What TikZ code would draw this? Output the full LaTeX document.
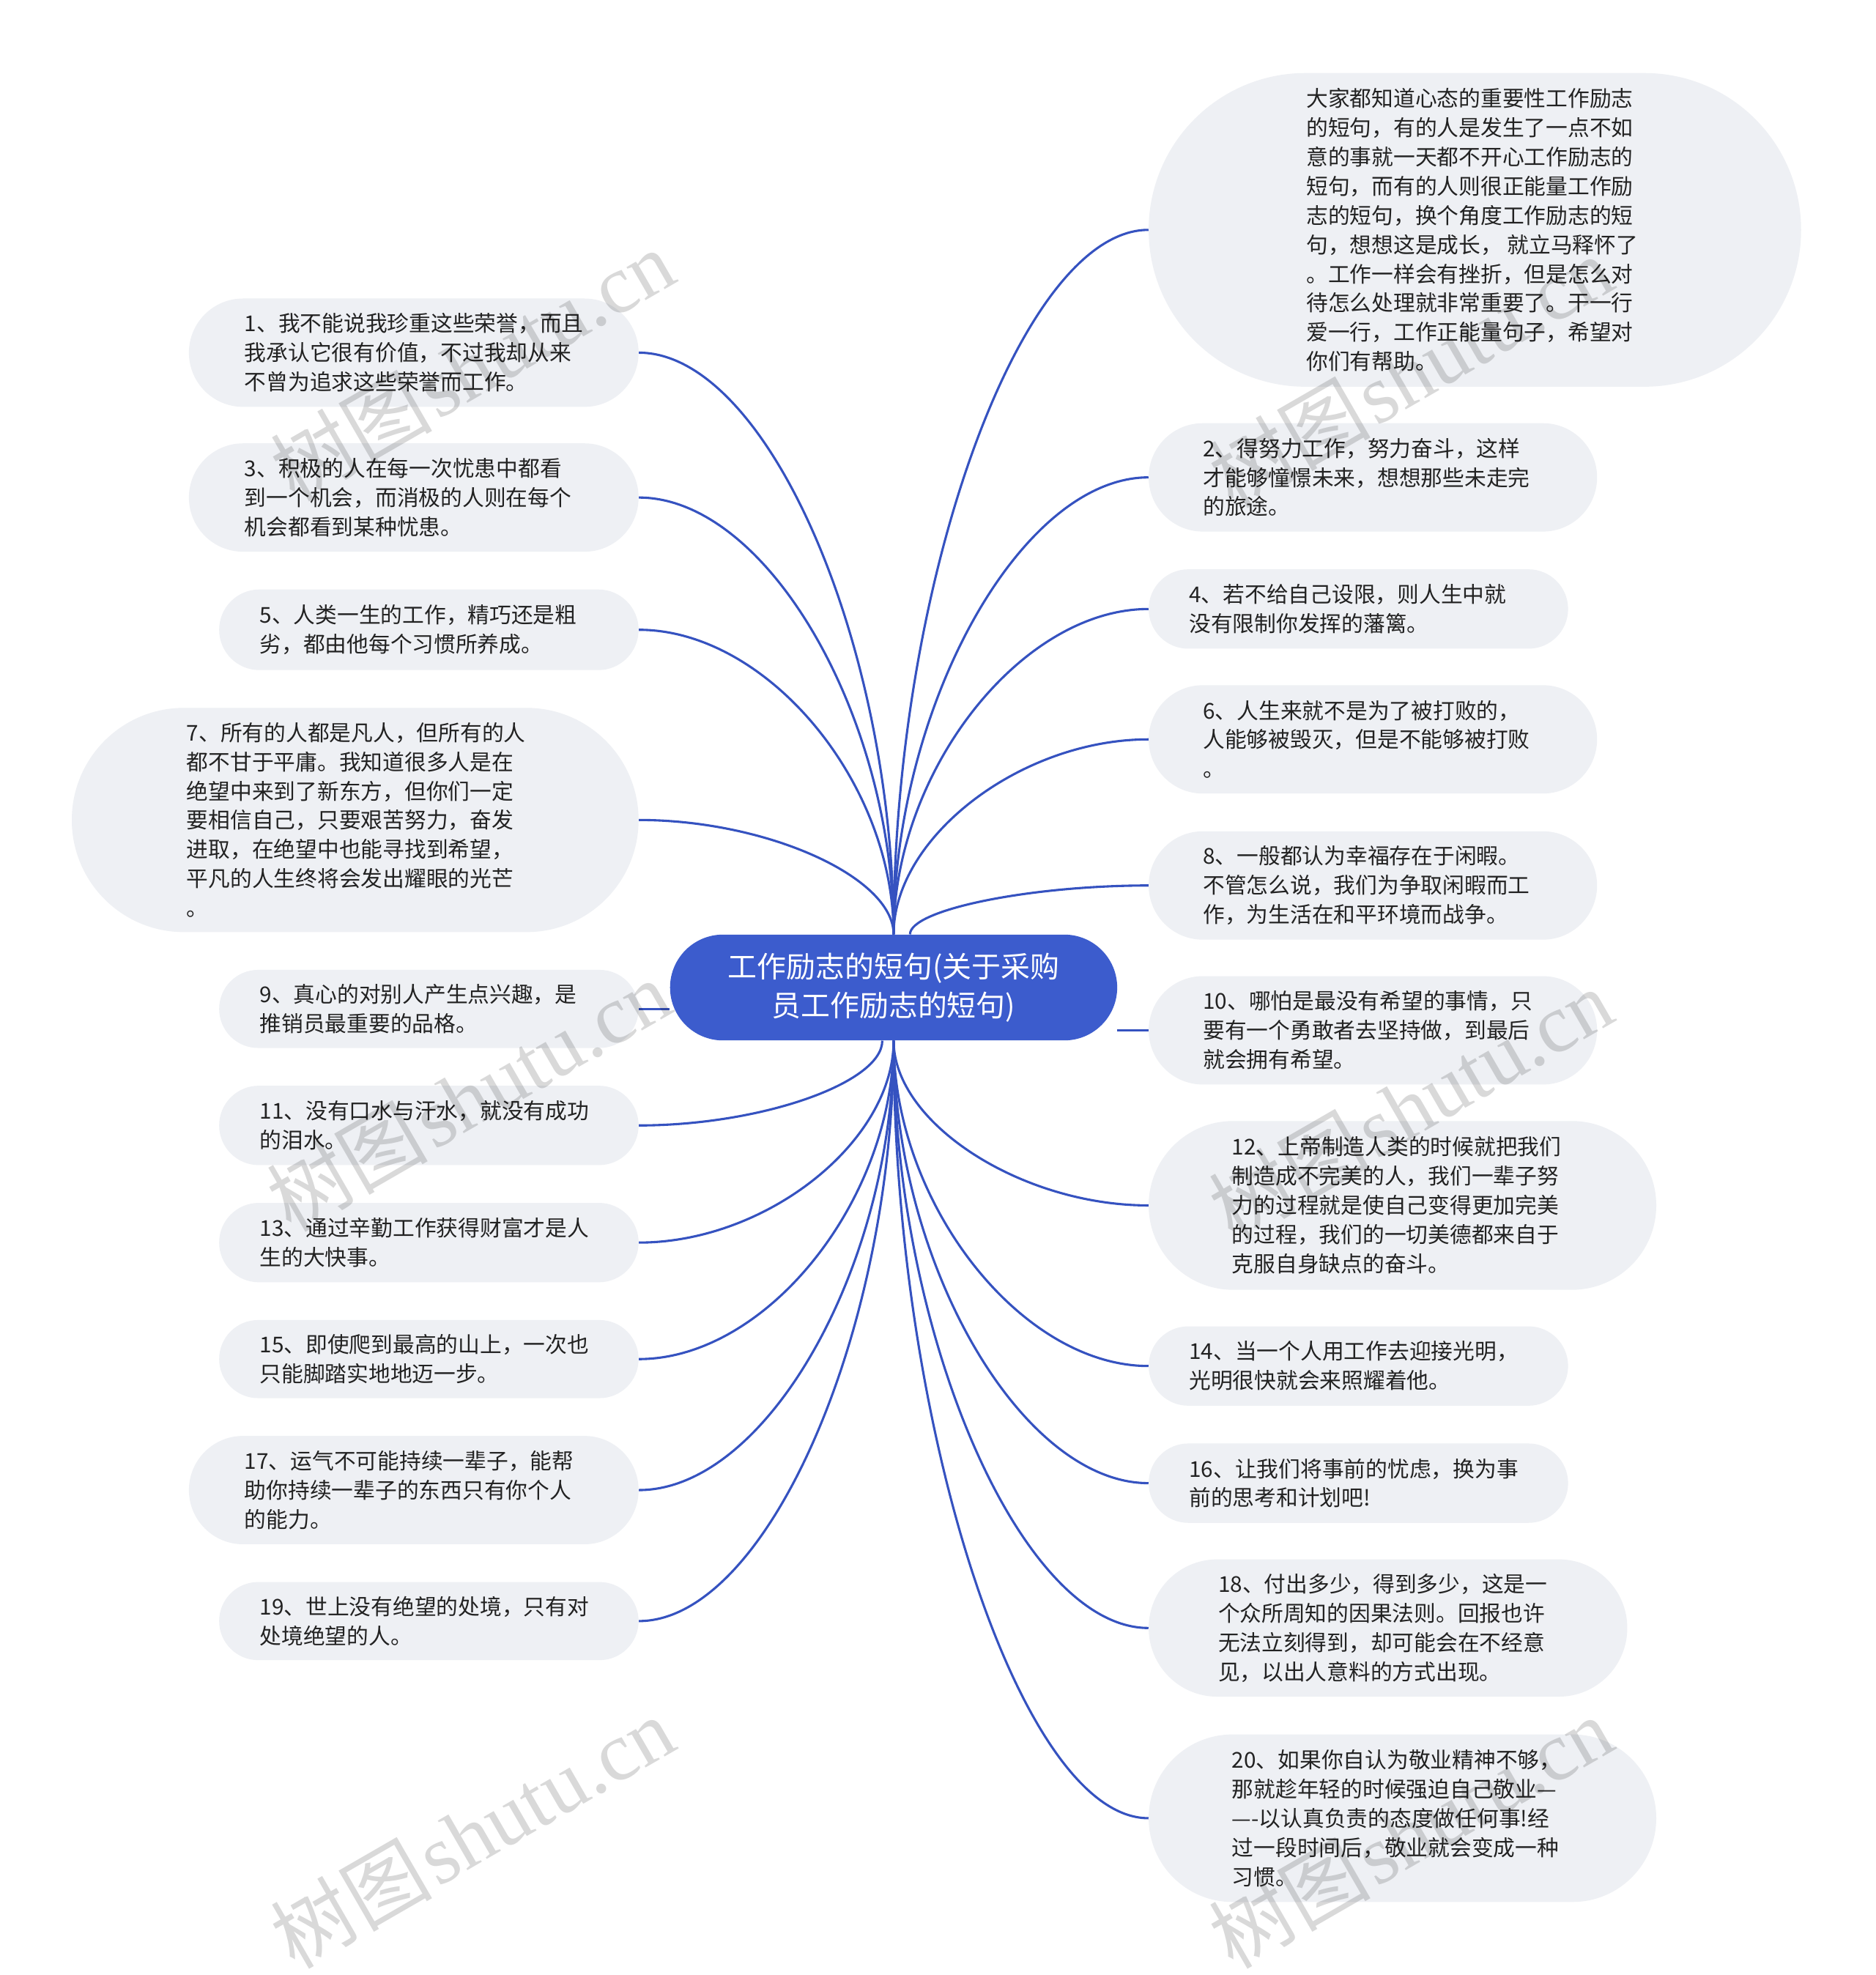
\documentclass[tikz,border=0pt]{standalone}
\usepackage{fontspec}
\newfontfamily\cjk{Noto Sans CJK SC}
\newfontfamily\wmserif{Liberation Serif}
\usetikzlibrary{shapes.misc,backgrounds}
\definecolor{mmblue}{HTML}{3C5CCD}
\definecolor{mmline}{HTML}{3552C0}
\definecolor{bubfill}{HTML}{EEF0F4}
\definecolor{txtcol}{HTML}{222222}
\begin{document}
\begin{tikzpicture}[x=1pt,y=-1pt,
  bubble/.style={rounded rectangle, fill=bubfill, draw=none, inner sep=0pt},
  txt/.style={anchor=west, align=left, inner sep=0pt, text=txtcol, font=\cjk\fontsize{17.3}{23.2}\selectfont},
  link/.style={draw=mmline, line width=1.8pt},
  wm/.style={rotate=30, text=black, opacity=0.15, inner sep=0pt}]
\useasboundingbox (0,0) rectangle (1489,1568);

% central topic
\node[rounded rectangle, fill=mmblue, minimum width=355pt, minimum height=84pt, inner sep=0pt,
      text=white, align=center, font=\cjk\fontsize{23.2}{31}\selectfont] (c) at (709.5,784)
      {工作励志的短句(关于采购\\员工作励志的短句)};

% right side
\node[bubble, minimum width=518pt, minimum height=249pt] (tr) at (1171,182.5) {};
\node[txt] (trt) at (1037,182.5) {大家都知道心态的重要性工作励志\\的短句，有的人是发生了一点不如\\意的事就一天都不开心工作励志的\\短句，而有的人则很正能量工作励\\志的短句，换个角度工作励志的短\\句，想想这是成长， 就立马释怀了\\。工作一样会有挫折，但是怎么对\\待怎么处理就非常重要了。干一行\\爱一行，工作正能量句子，希望对\\你们有帮助。};

\node[bubble, minimum width=356pt, minimum height=86pt] (n2) at (1090,379) {};
\node[txt] (n2t) at (955,379) {2、得努力工作，努力奋斗，这样\\才能够憧憬未来，想想那些未走完\\的旅途。};

\node[bubble, minimum width=333pt, minimum height=63pt] (n4) at (1078.5,483.5) {};
\node[txt] (n4t) at (944,483.5) {4、若不给自己设限，则人生中就\\没有限制你发挥的藩篱。};

\node[bubble, minimum width=356pt, minimum height=86pt] (n6) at (1090,587) {};
\node[txt] (n6t) at (955,587) {6、人生来就不是为了被打败的，\\人能够被毁灭，但是不能够被打败\\。};

\node[bubble, minimum width=356pt, minimum height=86pt] (n8) at (1090,703) {};
\node[txt] (n8t) at (955,703) {8、一般都认为幸福存在于闲暇。\\不管怎么说，我们为争取闲暇而工\\作，为生活在和平环境而战争。};

\node[bubble, minimum width=356pt, minimum height=86pt] (n10) at (1090,818) {};
\node[txt] (n10t) at (955,818) {10、哪怕是最没有希望的事情，只\\要有一个勇敢者去坚持做，到最后\\就会拥有希望。};

\node[bubble, minimum width=403pt, minimum height=134pt] (n12) at (1113.5,957) {};
\node[txt] (n12t) at (978,957) {12、上帝制造人类的时候就把我们\\制造成不完美的人，我们一辈子努\\力的过程就是使自己变得更加完美\\的过程，我们的一切美德都来自于\\克服自身缺点的奋斗。};

\node[bubble, minimum width=333pt, minimum height=63pt] (n14) at (1078.5,1084.5) {};
\node[txt] (n14t) at (944,1084.5) {14、当一个人用工作去迎接光明，\\光明很快就会来照耀着他。};

\node[bubble, minimum width=333pt, minimum height=63pt] (n16) at (1078.5,1177.5) {};
\node[txt] (n16t) at (944,1177.5) {16、让我们将事前的忧虑，换为事\\前的思考和计划吧!};

\node[bubble, minimum width=380pt, minimum height=109pt] (n18) at (1102,1292.5) {};
\node[txt] (n18t) at (967,1292.5) {18、付出多少，得到多少，这是一\\个众所周知的因果法则。回报也许\\无法立刻得到，却可能会在不经意\\见，以出人意料的方式出现。};

\node[bubble, minimum width=403pt, minimum height=133pt] (n20) at (1113.5,1443.5) {};
\node[txt] (n20t) at (978,1443.5) {20、如果你自认为敬业精神不够，\\那就趁年轻的时候强迫自己敬业—\\—-以认真负责的态度做任何事!经\\过一段时间后，敬业就会变成一种\\习惯。};

% left side
\node[bubble, minimum width=357pt, minimum height=86pt] (n1) at (328.5,280) {};
\node[txt] (n1t) at (194,280) {1、我不能说我珍重这些荣誉，而且\\我承认它很有价值，不过我却从来\\不曾为追求这些荣誉而工作。};

\node[bubble, minimum width=357pt, minimum height=86pt] (n3) at (328.5,395) {};
\node[txt] (n3t) at (194,395) {3、积极的人在每一次忧患中都看\\到一个机会，而消极的人则在每个\\机会都看到某种忧患。};

\node[bubble, minimum width=333pt, minimum height=64pt] (n5) at (340.5,500) {};
\node[txt] (n5t) at (206,500) {5、人类一生的工作，精巧还是粗\\劣，都由他每个习惯所养成。};

\node[bubble, minimum width=450pt, minimum height=178pt] (n7) at (282,651) {};
\node[txt] (n7t) at (148,651) {7、所有的人都是凡人，但所有的人\\都不甘于平庸。我知道很多人是在\\绝望中来到了新东方，但你们一定\\要相信自己，只要艰苦努力，奋发\\进取，在绝望中也能寻找到希望，\\平凡的人生终将会发出耀眼的光芒\\。};

\node[bubble, minimum width=333pt, minimum height=62pt] (n9) at (340.5,801) {};
\node[txt] (n9t) at (206,801) {9、真心的对别人产生点兴趣，是\\推销员最重要的品格。};

\node[bubble, minimum width=333pt, minimum height=63pt] (n11) at (340.5,893.5) {};
\node[txt] (n11t) at (206,893.5) {11、没有口水与汗水，就没有成功\\的泪水。};

\node[bubble, minimum width=333pt, minimum height=63pt] (n13) at (340.5,986.5) {};
\node[txt] (n13t) at (206,986.5) {13、通过辛勤工作获得财富才是人\\生的大快事。};

\node[bubble, minimum width=333pt, minimum height=62pt] (n15) at (340.5,1079) {};
\node[txt] (n15t) at (206,1079) {15、即使爬到最高的山上，一次也\\只能脚踏实地地迈一步。};

\node[bubble, minimum width=357pt, minimum height=86pt] (n17) at (328.5,1183) {};
\node[txt] (n17t) at (194,1183) {17、运气不可能持续一辈子，能帮\\助你持续一辈子的东西只有你个人\\的能力。};

\node[bubble, minimum width=333pt, minimum height=62pt] (n19) at (340.5,1287) {};
\node[txt] (n19t) at (206,1287) {19、世上没有绝望的处境，只有对\\处境绝望的人。};

% connectors (behind nodes)
\begin{pgfonlayer}{background}
\fill[white] (0,0) rectangle (1489,1568);
% left, upper
\draw[link] (c.north) .. controls +(0,-231) and +(101.5,0) .. (n1.east);
\draw[link] (c.north) .. controls +(0,-173.5) and +(101.5,0) .. (n3.east);
\draw[link] (c.north) .. controls +(0,-121) and +(101.5,0) .. (n5.east);
\draw[link] (c.north) .. controls +(0,-45.5) and +(101.5,0) .. (n7.east);
% left, middle
\draw[link] (c.west |- n9.east) -- (n9.east);
% left, lower
\draw[link] ([xshift=-9pt]c.south) .. controls +(0,33.5) and +(97,0) .. (n11.east);
\draw[link] (c.south) .. controls +(0,80) and +(101.5,0) .. (n13.east);
\draw[link] (c.south) .. controls +(0,126.5) and +(101.5,0) .. (n15.east);
\draw[link] (c.south) .. controls +(0,178.5) and +(101.5,0) .. (n17.east);
\draw[link] (c.south) .. controls +(0,230.5) and +(101.5,0) .. (n19.east);
% right, upper
\draw[link] (c.north) .. controls +(0,-280) and +(-101,0) .. (tr.west);
\draw[link] (c.north) .. controls +(0,-181.5) and +(-101,0) .. (n2.west);
\draw[link] (c.north) .. controls +(0,-129.5) and +(-101,0) .. (n4.west);
\draw[link] (c.north) .. controls +(0,-77.5) and +(-101,0) .. (n6.west);
\draw[link] ([xshift=13pt]c.north) .. controls +(0,-19.5) and +(-94.5,0) .. (n8.west);
% right, middle
\draw[link] (c.east |- n10.west) -- (n10.west);
% right, lower
\draw[link] (c.south) .. controls +(0,65.5) and +(-101,0) .. (n12.west);
\draw[link] (c.south) .. controls +(0,129.5) and +(-101,0) .. (n14.west);
\draw[link] (c.south) .. controls +(0,176) and +(-101,0) .. (n16.west);
\draw[link] (c.south) .. controls +(0,233) and +(-101,0) .. (n18.west);
\draw[link] (c.south) .. controls +(0,308.5) and +(-101,0) .. (n20.west);
\end{pgfonlayer}

% watermarks
\foreach \wx/\wy/\wn in {375/290/w1, 372/870/w2, 375/1455/w3, 1120/295/w4, 1120/877/w5, 1120/1455/w6}{
  \node[wm] (\wn) at (\wx,\wy) {{\cjk\fontsize{64}{64}\selectfont 树图} {\wmserif\fontsize{66}{66}\selectfont shutu.cn}};
}
\end{tikzpicture}
\end{document}
